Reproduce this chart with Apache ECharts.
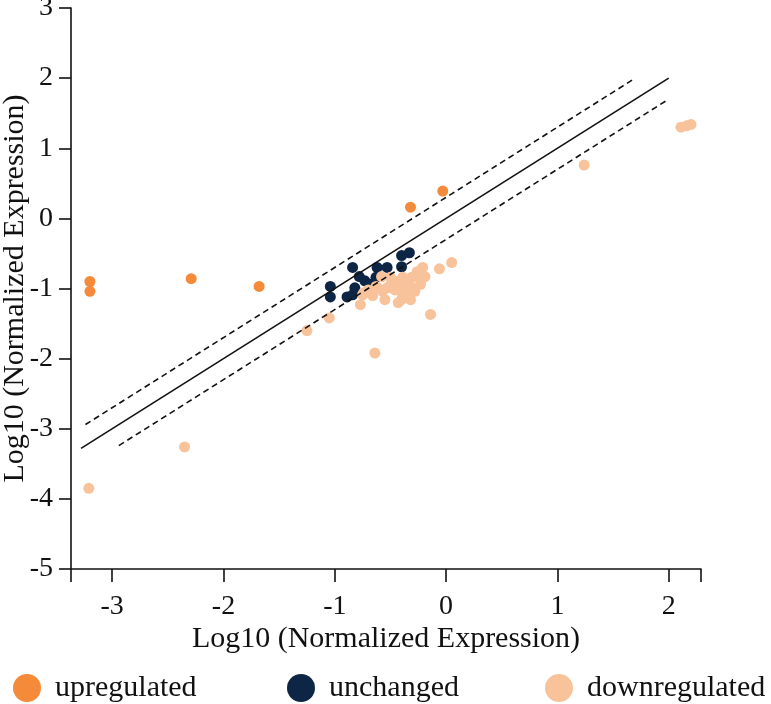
<!DOCTYPE html>
<html><head><meta charset="utf-8">
<script src="https://cdn.jsdelivr.net/npm/echarts@6/dist/echarts.min.js"></script>
<style>html,body{margin:0;padding:0;background:#fff}#c{width:771px;height:704px}</style>
</head><body><div id="c"></div>
<script>
var seriesNames = ['upregulated', 'unchanged', 'downregulated'];
var upregulated = [[-3.2,-0.9],[-3.2,-1.04],[-2.29,-0.86],[-1.68,-0.97],[-0.32,0.16],[-0.03,0.39]];
var unchanged = [[-1.04,-0.97],[-1.04,-1.12],[-0.84,-0.70],[-0.78,-0.83],[-0.89,-1.12],[-0.84,-1.09],
  [-0.82,-0.99],[-0.73,-0.89],[-0.62,-0.70],[-0.53,-0.70],[-0.40,-0.53],[-0.33,-0.49],[-0.40,-0.69],
  [-0.63,-0.84],[-0.68,-0.94]];
var downregulated = [[-3.21,-3.85],[-2.35,-3.26],[-1.25,-1.6],[-1.05,-1.42],[1.24,0.76],[2.11,1.3],[2.16,1.32],[2.2,1.34],
  [-0.77,-1.23],[-0.75,-1.09],[-0.74,-1.06],[-0.64,-1.92],[-0.61,-0.99],[-0.58,-0.83],[-0.57,-1.04],[-0.55,-1.16],
  [-0.53,-0.99],[-0.50,-0.84],[-0.49,-0.92],[-0.44,-0.90],[-0.43,-1.20],[-0.41,-0.99],[-0.40,-1.16],[-0.39,-0.84],
  [-0.39,-1.09],[-0.32,-1.16],[-0.31,-0.84],[-0.30,-0.99],[-0.26,-0.76],[-0.23,-0.87],[-0.23,-0.94],[-0.21,-0.70],
  [-0.19,-0.83],[-0.14,-1.37],[-0.06,-0.72],[0.05,-0.63],[-0.63,-0.97],[-0.70,-1.02],[-0.66,-1.10],[-0.46,-1.02],
  [-0.35,-1.02],[-0.34,-0.90],[-0.28,-1.04]];
var identityLine = [[-3.28,-3.28],[2.0,2.0]];
var upperLine = [[-3.24,-2.94],[1.7,2.0]];
var lowerLine = [[-2.94,-3.24],[2.0,1.7]];
var xRange = [-3.37, 2.29];
var yRange = [-5, 3];
var colors = ['#F48A3A', '#0D2646', '#F8C39B'];

var font = 'Liberation Serif';
var chart = echarts.init(document.getElementById('c'), null, {renderer: 'canvas'});
function legendAt(i, left) {
  return {
    data: [seriesNames[i]], left: left, top: 668, icon: 'circle', itemWidth: 30, itemHeight: 28,
    textStyle: {fontFamily: font, fontSize: 30, color: '#111', padding: [0, 0, 0, 8]}
  };
}
function intLabel(v) { return Math.abs(v - Math.round(v)) < 1e-6 ? String(Math.round(v)) : ''; }
var axisCommon = {
  axisLine: {show: true, onZero: false, lineStyle: {color: '#111', width: 1.6}},
  splitLine: {show: false},
  nameLocation: 'middle',
  nameMoveOverlap: false,
  nameTextStyle: {fontFamily: font, fontSize: 30, color: '#111'}
};
chart.setOption({
  animation: false,
  textStyle: {fontFamily: font},
  grid: {left: 71, right: 70, top: 8, bottom: 135, containLabel: false, outerBoundsMode: 'none'},
  legend: [legendAt(0, 8), legendAt(1, 282), legendAt(2, 540)],
  xAxis: Object.assign({}, axisCommon, {
    type: 'value', min: xRange[0], max: xRange[1], splitNumber: 5,
    name: 'Log10 (Normalized Expression)', nameGap: 55,
    axisTick: {show: true, length: 13, lineStyle: {color: '#111', width: 1.6}},
    axisLabel: {show: true, showMinLabel: true, showMaxLabel: true, hideOverlap: false,
      margin: 24, fontFamily: font, fontSize: 28, color: '#111', formatter: intLabel}
  }),
  yAxis: Object.assign({}, axisCommon, {
    type: 'value', min: yRange[0], max: yRange[1], interval: 1,
    name: 'Log10 (Normalized Expression)', nameGap: 41,
    axisTick: {show: true, length: 12, lineStyle: {color: '#111', width: 1.6}},
    axisLabel: {show: true, showMinLabel: true, showMaxLabel: true, hideOverlap: false,
      margin: 18, fontFamily: font, fontSize: 28, color: '#111'}
  }),
  series: [
    {type: 'line', data: identityLine, symbol: 'none', silent: true, lineStyle: {color: '#111', width: 1.6}},
    {type: 'line', data: upperLine, symbol: 'none', silent: true, lineStyle: {color: '#111', width: 1.6, type: [6, 4]}},
    {type: 'line', data: lowerLine, symbol: 'none', silent: true, lineStyle: {color: '#111', width: 1.6, type: [6, 4]}},
    {name: seriesNames[0], type: 'scatter', data: upregulated, symbolSize: 11, itemStyle: {color: colors[0], opacity: 1}},
    {name: seriesNames[1], type: 'scatter', data: unchanged, symbolSize: 11, itemStyle: {color: colors[1], opacity: 1}},
    {name: seriesNames[2], type: 'scatter', data: downregulated, symbolSize: 11, itemStyle: {color: colors[2], opacity: 1}}
  ]
});
</script></body></html>
